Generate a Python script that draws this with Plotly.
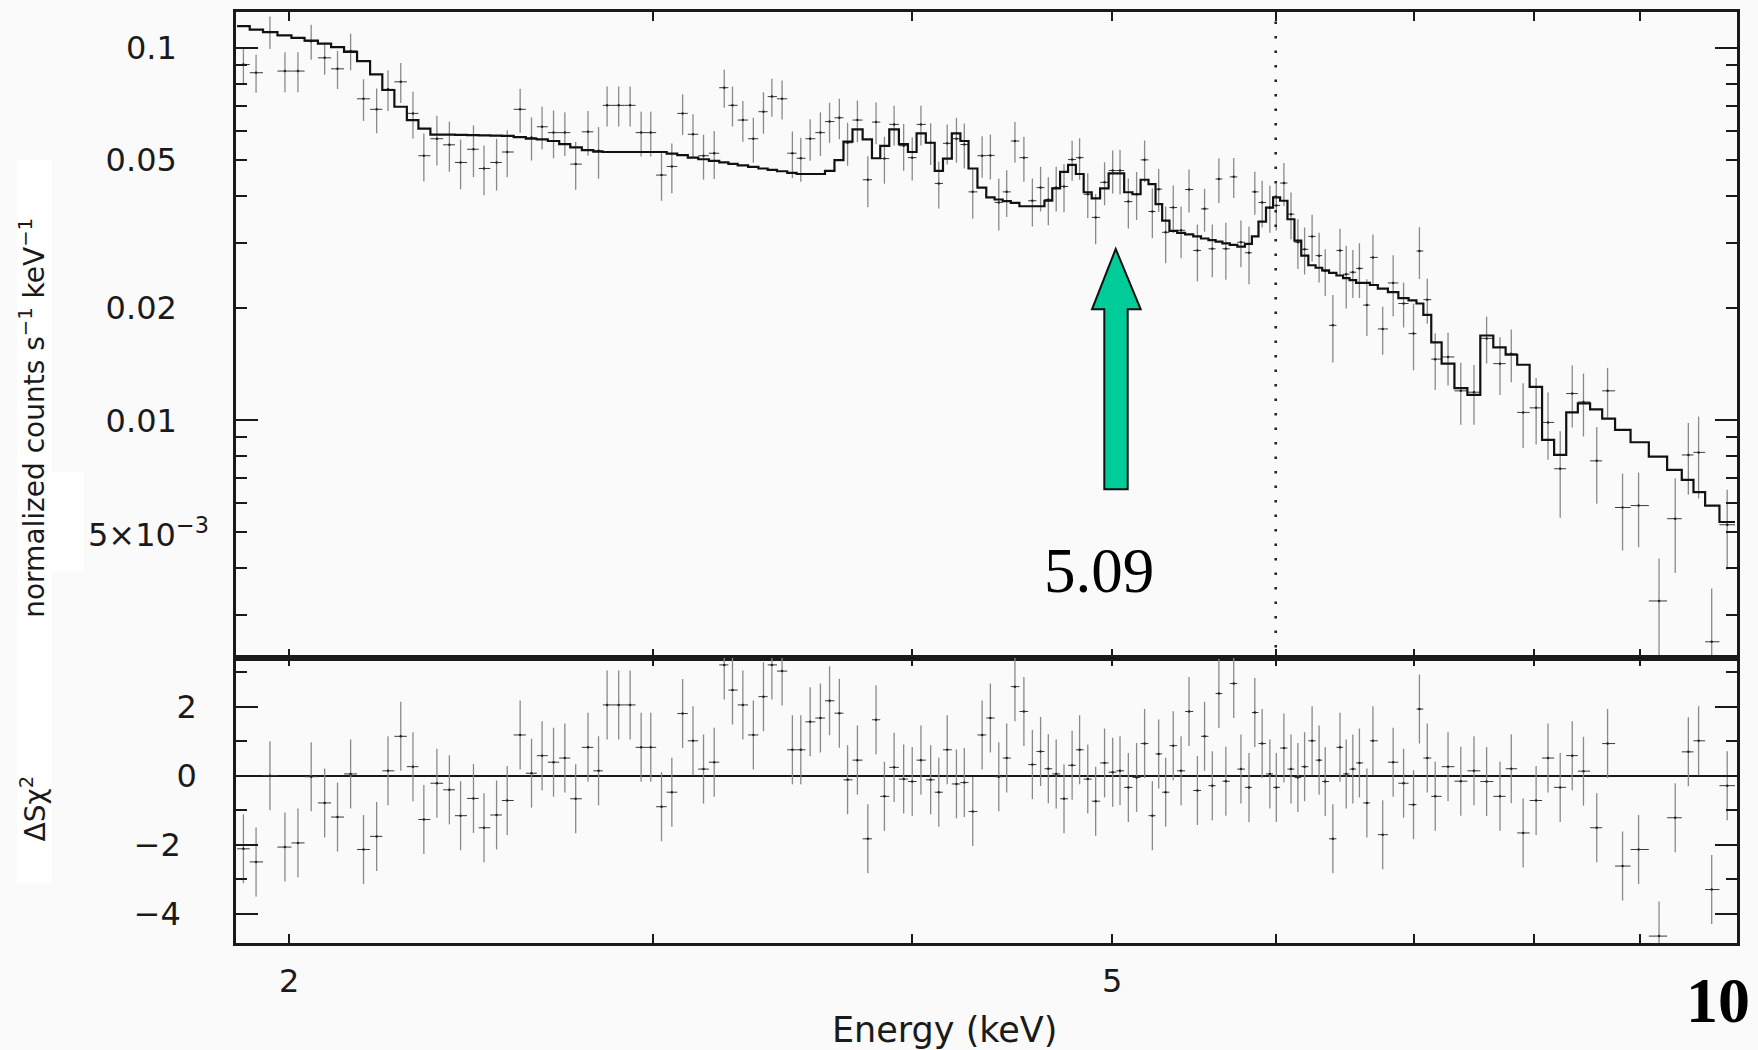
import math
import plotly.graph_objects as go

# ---------------- data ----------------
energy_keV = [
    1.901, 1.928, 1.958, 1.991, 2.020, 2.050, 2.081, 2.111, 2.142, 2.173,
    2.205, 2.233, 2.265, 2.296, 2.324, 2.358, 2.391, 2.421, 2.456, 2.485,
    2.520, 2.550, 2.587, 2.620, 2.651, 2.685, 2.719, 2.752, 2.790, 2.823,
    2.850, 2.887, 2.924, 2.960, 2.992, 3.028, 3.063, 3.100, 3.136, 3.173,
    3.211, 3.247, 3.277, 3.315, 3.354, 3.392, 3.424, 3.463, 3.503, 3.536,
    3.573, 3.614, 3.651, 3.691, 3.725, 3.766, 3.810, 3.845, 3.881, 3.923,
    3.965, 4.003, 4.042, 4.086, 4.123, 4.162, 4.205, 4.242, 4.282, 4.327,
    4.367, 4.408, 4.447, 4.488, 4.533, 4.576, 4.618, 4.658, 4.699, 4.740,
    4.783, 4.823, 4.867, 4.910, 4.959, 5.004, 5.045, 5.092, 5.139, 5.185,
    5.230, 5.267, 5.308, 5.353, 5.400, 5.448, 5.499, 5.543, 5.591, 5.632,
    5.676, 5.726, 5.772, 5.824, 5.862, 5.910, 5.961, 6.004, 6.055, 6.103,
    6.150, 6.196, 6.248, 6.297, 6.340, 6.394, 6.445, 6.490, 6.538, 6.586,
    6.641, 6.686, 6.759, 6.838, 6.918, 6.995, 7.041, 7.103, 7.166, 7.269,
    7.373, 7.482, 7.588, 7.702, 7.799, 7.903, 8.018, 8.125, 8.236, 8.347,
    8.452, 8.578, 8.682, 8.828, 8.987, 9.194, 9.361, 9.499, 9.608, 9.749,
    9.919]

counts = [
    0.0904, 0.0859, 0.1106, 0.0868, 0.0868, 0.1044, 0.0942, 0.0880, 0.0983, 0.0731,
    0.0685, 0.0775, 0.0812, 0.0668, 0.0514, 0.0571, 0.0550, 0.0493, 0.0535, 0.0475,
    0.0493, 0.0526, 0.0685, 0.0575, 0.0615, 0.0593, 0.0593, 0.0488, 0.0596, 0.0530,
    0.0702, 0.0702, 0.0702, 0.0593, 0.0593, 0.0456, 0.0481, 0.0668, 0.0587, 0.0514,
    0.0522, 0.0783, 0.0702, 0.0641, 0.0571, 0.0675, 0.0741, 0.0731, 0.0522, 0.0506,
    0.0571, 0.0593, 0.0635, 0.0650, 0.0557, 0.0641, 0.0443, 0.0633, 0.0505, 0.0624,
    0.0547, 0.0508, 0.0624, 0.0557, 0.0433, 0.0555, 0.0571, 0.0551, 0.0411, 0.0514,
    0.0515, 0.0385, 0.0411, 0.0563, 0.0508, 0.0389, 0.0422, 0.0392, 0.0422, 0.0425,
    0.0502, 0.0508, 0.0405, 0.0351, 0.0436, 0.0469, 0.0469, 0.0387, 0.0405, 0.0501,
    0.0364, 0.0418, 0.0320, 0.0373, 0.0324, 0.0417, 0.0286, 0.0370, 0.0289, 0.0445,
    0.0289, 0.0451, 0.0301, 0.0282, 0.0411, 0.0385, 0.0373, 0.0378, 0.0434, 0.0358,
    0.0301, 0.0288, 0.0312, 0.0277, 0.0252, 0.0180, 0.0286, 0.0247, 0.0250, 0.0256,
    0.0204, 0.0274, 0.0176, 0.0234, 0.0206, 0.0171, 0.0285, 0.0211, 0.0146, 0.0148,
    0.0120, 0.0119, 0.0166, 0.0142, 0.0151, 0.0105, 0.0108, 0.00987, 0.00741, 0.0118,
    0.0112, 0.00778, 0.0120, 0.00583, 0.00590, 0.00327, 0.00544, 0.00807, 0.00820, 0.00254,
    0.00524]

counts_err_frac = [
    0.110, 0.117, 0.100, 0.123, 0.123, 0.108, 0.100, 0.117, 0.113, 0.128,
    0.138, 0.125, 0.123, 0.144, 0.147, 0.153, 0.153, 0.153, 0.159, 0.153,
    0.159, 0.144, 0.135, 0.132, 0.132, 0.147, 0.135, 0.147, 0.138, 0.159,
    0.123, 0.123, 0.123, 0.138, 0.138, 0.147, 0.153, 0.125, 0.132, 0.138,
    0.147, 0.117, 0.123, 0.125, 0.138, 0.128, 0.117, 0.120, 0.144, 0.135,
    0.128, 0.135, 0.123, 0.125, 0.132, 0.128, 0.156, 0.128, 0.144, 0.123,
    0.144, 0.132, 0.123, 0.128, 0.144, 0.123, 0.138, 0.138, 0.153, 0.128,
    0.138, 0.159, 0.144, 0.125, 0.138, 0.147, 0.138, 0.147, 0.138, 0.147,
    0.123, 0.128, 0.138, 0.153, 0.132, 0.132, 0.138, 0.153, 0.147, 0.128,
    0.153, 0.132, 0.174, 0.147, 0.159, 0.132, 0.174, 0.132, 0.162, 0.138,
    0.174, 0.123, 0.144, 0.177, 0.132, 0.144, 0.144, 0.144, 0.132, 0.144,
    0.153, 0.144, 0.144, 0.153, 0.144, 0.206, 0.144, 0.192, 0.147, 0.168,
    0.174, 0.153, 0.147, 0.186, 0.138, 0.203, 0.159, 0.138, 0.174, 0.162,
    0.189, 0.183, 0.144, 0.177, 0.162, 0.198, 0.203, 0.206, 0.262, 0.189,
    0.192, 0.233, 0.153, 0.233, 0.227, 0.300, 0.285, 0.218, 0.248, 0.390,
    0.242]

model_counts = [
    0.1146, 0.1122, 0.1104, 0.1083, 0.1066, 0.1048, 0.1029, 0.1006, 0.0977, 0.0923,
    0.0850, 0.0772, 0.0696, 0.0641, 0.0608, 0.0586, 0.0586, 0.0585, 0.0584, 0.0583,
    0.0582, 0.0581, 0.0577, 0.0571, 0.0569, 0.0563, 0.0552, 0.0541, 0.0532, 0.0527,
    0.0526, 0.0526, 0.0526, 0.0526, 0.0526, 0.0526, 0.0521, 0.0516, 0.0508, 0.0503,
    0.0498, 0.0493, 0.0489, 0.0484, 0.0480, 0.0475, 0.0471, 0.0467, 0.0462, 0.0459,
    0.0459, 0.0459, 0.0468, 0.0500, 0.0561, 0.0605, 0.0569, 0.0506, 0.0546, 0.0605,
    0.0552, 0.0526, 0.0590, 0.0557, 0.0468, 0.0505, 0.0590, 0.0563, 0.0475, 0.0422,
    0.0397, 0.0392, 0.0388, 0.0384, 0.0376, 0.0376, 0.0376, 0.0389, 0.0420, 0.0465,
    0.0486, 0.0459, 0.0410, 0.0395, 0.0420, 0.0461, 0.0461, 0.0410, 0.0405, 0.0443,
    0.0431, 0.0381, 0.0344, 0.0323, 0.0319, 0.0316, 0.0312, 0.0308, 0.0305, 0.0302,
    0.0299, 0.0296, 0.0293, 0.0298, 0.0312, 0.0342, 0.0373, 0.0397, 0.0389, 0.0347,
    0.0304, 0.0277, 0.0261, 0.0257, 0.0253, 0.0249, 0.0245, 0.0241, 0.0238, 0.0234,
    0.0234, 0.0231, 0.0226, 0.0221, 0.0213, 0.0210, 0.0206, 0.0192, 0.0162, 0.0142,
    0.0122, 0.0117, 0.0169, 0.0157, 0.0150, 0.0141, 0.0123, 0.00886, 0.00807, 0.0105,
    0.0111, 0.0107, 0.0101, 0.00942, 0.00873, 0.00799, 0.00736, 0.00692, 0.00641, 0.00590,
    0.00533]

residual = [
    -2.12, -2.50, 0.00, -2.07, -1.95, -0.03, -0.79, -1.20, 0.05, -2.14,
    -1.76, 0.14, 1.14, 0.26, -1.27, -0.22, -0.41, -1.16, -0.66, -1.51,
    -1.14, -0.72, 1.18, 0.07, 0.58, 0.39, 0.51, -0.67, 0.82, 0.14,
    2.05, 2.05, 2.05, 0.82, 0.82, -0.90, -0.48, 1.80, 1.01, 0.19,
    0.39, 3.21, 2.48, 2.05, 1.18, 2.29, 3.21, 3.03, 0.75, 0.75,
    1.56, 1.67, 2.17, 1.81, -0.12, 0.45, -1.83, 1.62, -0.60, 0.24,
    -0.10, -0.17, 0.45, -0.12, -0.48, 0.75, -0.24, -0.20, -1.04, 1.18,
    1.67, -0.03, 0.51, 2.58, 1.86, 0.32, 0.70, 0.20, 0.05, -0.67,
    0.30, 0.75, -0.10, -0.74, 0.37, 0.10, 0.14, -0.34, -0.05, 0.93,
    -1.16, 0.63, -0.48, 0.87, 0.14, 1.86, -0.43, 1.14, -0.29, 2.38,
    -0.16, 2.67, 0.19, -0.34, 1.83, 0.93, 0.05, -0.34, 0.80, 0.19,
    -0.05, 0.26, 1.01, 0.45, -0.17, -1.83, 0.82, 0.05, 0.19, 0.37,
    -0.79, 1.01, -1.71, 0.39, -0.22, -0.84, 1.93, 0.51, -0.60, 0.26,
    -0.16, 0.14, -0.17, -0.60, 0.20, -1.66, -0.72, 0.51, -0.34, 0.58,
    0.13, -1.51, 0.93, -2.62, -2.14, -4.65, -1.22, 0.69, 1.01, -3.30,
    -0.29]

line_energy_keV = [6.0, 6.0]
line_span = [1e-3, 1.0]

x_tick_vals = [2, 3, 4, 5, 6, 7, 8, 9]
x_label_vals = [2, 5]
x_label_text = ["2", "5"]
y_tick_vals = [0.1, 0.05, 0.02, 0.01, 0.005]
y_tick_text = ["0.1", "0.05", "0.02", "0.01", ""]
y_extra_label = "5×10<sup>−3</sup>"
y_minor_vals = [0.003, 0.004, 0.006, 0.007, 0.008, 0.009,
                0.03, 0.04, 0.06, 0.07, 0.08, 0.09]
y_long_vals = [0.01, 0.1]
res_tick_vals = [-4, -2, 0, 2]
res_tick_text = ["−4\u2002", "−2\u2002", "0", "2"]
res_minor_vals = [-3, -1, 1, 3]

arrow_label = "5.09"
corner_label = "10"

# ---------------- derived bin edges (geometric midpoints) ----------------
logc = [math.log10(e) for e in energy_keV]
mids = [(a + b) / 2 for a, b in zip(logc[:-1], logc[1:])]
lo_log = [2 * logc[0] - mids[0]] + mids
hi_log = mids + [2 * logc[-1] - mids[-1]]
edge_lo = [10 ** v for v in lo_log]
edge_hi = [10 ** v for v in hi_log]
xerr_minus = [e - l for e, l in zip(energy_keV, edge_lo)]
xerr_plus = [h - e for e, h in zip(energy_keV, edge_hi)]
yerr = [c * f for c, f in zip(counts, counts_err_frac)]

step_x = edge_lo + [edge_hi[-1]]
step_y = model_counts + [model_counts[-1]]

FONT = "DejaVu Sans"
INK = "#1a1a1a"
BG = "#fafafa"
XR = [0.2754, 1.0012]
YR = [-2.6378, -0.9028]
RR = [-4.85, 3.42]
SPLIT = 0.3065

fig = go.Figure()

# faint white patches behind the left-hand labels
fig.add_shape(type="rect", xref="paper", yref="paper", x0=-0.1459, x1=-0.1226,
              y0=0.0642, y1=0.8415, fillcolor="#ffffff", line_width=0,
              layer="below")
fig.add_shape(type="rect", xref="paper", yref="paper", x0=-0.1226, x1=-0.1013,
              y0=0.3994, y1=0.5064, fillcolor="#ffffff", line_width=0,
              layer="below")

# data points (top)
fig.add_trace(go.Scatter(
    x=energy_keV, y=counts, mode="markers", xaxis="x", yaxis="y",
    marker=dict(size=2.5, color="#222"),
    error_x=dict(type="data", array=xerr_plus, arrayminus=xerr_minus,
                 symmetric=False, color="#3a3a3a", thickness=1, width=0),
    error_y=dict(type="data", array=yerr, color="#8a8a8a", thickness=1.3, width=0),
    showlegend=False, hoverinfo="skip"))

# model histogram
fig.add_trace(go.Scatter(
    x=step_x, y=step_y, mode="lines", line_shape="hv", xaxis="x", yaxis="y",
    line=dict(color="#111", width=2.2), showlegend=False, hoverinfo="skip"))

# dotted line
fig.add_trace(go.Scatter(
    x=line_energy_keV, y=line_span, mode="lines", xaxis="x", yaxis="y",
    line=dict(color="#222", width=2.6, dash="2.5px,12px"),
    showlegend=False, hoverinfo="skip"))

# invisible trace for the long-tick overlay axis
fig.add_trace(go.Scatter(
    x=energy_keV[:1], y=counts[:1], mode="markers", xaxis="x", yaxis="y3",
    marker=dict(opacity=0), showlegend=False, hoverinfo="skip"))

# residuals
fig.add_trace(go.Scatter(
    x=energy_keV, y=residual, mode="markers", xaxis="x2", yaxis="y2",
    marker=dict(size=2.5, color="#222"),
    error_x=dict(type="data", array=xerr_plus, arrayminus=xerr_minus,
                 symmetric=False, color="#3a3a3a", thickness=1, width=0),
    error_y=dict(type="data", array=[1.0] * len(residual), color="#8a8a8a",
                 thickness=1.3, width=0),
    showlegend=False, hoverinfo="skip"))

tickfont = dict(family=FONT, size=32, color=INK)
common_x = dict(type="log", range=XR, tickvals=x_tick_vals, ticks="inside",
                ticklen=9, tickwidth=2, tickcolor=INK, showline=True,
                linewidth=2.5, linecolor=INK, mirror="ticks", showgrid=False,
                zeroline=False, showticklabels=False)

fig.update_layout(
    width=1758, height=1050,
    margin=dict(l=236, r=21, t=9, b=107),
    paper_bgcolor=BG, plot_bgcolor=BG,
    xaxis=dict(common_x, anchor="y", domain=[0, 1]),
    xaxis2=dict(common_x, anchor="y2", domain=[0, 1]),
    yaxis=dict(type="log", range=YR, domain=[SPLIT, 1], anchor="x",
               tickvals=y_tick_vals, ticktext=y_tick_text, ticks="inside",
               ticklen=11, tickwidth=2, tickcolor=INK, showline=True,
               linewidth=2.5, linecolor=INK, mirror="ticks", showgrid=False,
               zeroline=False, tickfont=tickfont, ticklabelstandoff=50,
               minor=dict(tickvals=y_minor_vals, ticks="inside", ticklen=11,
                          tickwidth=2, tickcolor=INK, showgrid=False)),
    yaxis3=dict(type="log", range=YR, overlaying="y", anchor="x", side="left",
                tickvals=y_long_vals, ticks="inside", ticklen=22, tickwidth=2,
                tickcolor=INK, showticklabels=False, showline=False,
                mirror="ticks", showgrid=False, zeroline=False),
    yaxis2=dict(range=RR, domain=[0, SPLIT], anchor="x2",
                tickvals=res_tick_vals, ticktext=res_tick_text, ticks="inside",
                ticklen=22, tickwidth=2, tickcolor=INK, showline=True,
                linewidth=2.5, linecolor=INK, mirror="ticks", showgrid=False,
                zeroline=True, zerolinecolor=INK, zerolinewidth=2,
                tickfont=tickfont, ticklabelstandoff=30,
                minor=dict(tickvals=res_minor_vals, ticks="inside", ticklen=11,
                           tickwidth=2, tickcolor=INK, showgrid=False)),
)

# x tick labels (placed on the energy axis)
for v, t in zip(x_label_vals, x_label_text):
    fig.add_annotation(text=t, x=math.log10(v), xref="x2", y=-0.0407,
                       yref="paper", showarrow=False, xanchor="center",
                       yanchor="middle", font=tickfont)

# arrow (annotation graphic, paper coordinates)
arrow_pts = [(0.58608, 0.74550), (0.60273, 0.68062), (0.59407, 0.68062),
             (0.59407, 0.48747), (0.57848, 0.48747), (0.57848, 0.68062),
             (0.57029, 0.68062)]
path = "M " + " L ".join(f"{x},{y}" for x, y in arrow_pts) + " Z"
fig.add_shape(type="path", path=path, xref="paper", yref="paper",
              fillcolor="#00CC99", line=dict(color="#111", width=2))

fig.add_annotation(text=y_extra_label, x=-0.0999, y=0.4400, xref="paper",
                   yref="paper", showarrow=False, xanchor="left",
                   yanchor="middle", font=tickfont)
fig.add_annotation(text=arrow_label, x=0.57495, y=0.3999, xref="paper",
                   yref="paper", showarrow=False, xanchor="center",
                   yanchor="middle",
                   font=dict(family="Liberation Serif", size=63, color="#000"))
fig.add_annotation(text="<b>" + corner_label + "</b>", x=0.98734, y=-0.0621,
                   xref="paper", yref="paper", showarrow=False,
                   xanchor="center", yanchor="middle",
                   font=dict(family="Liberation Serif", size=64, color="#000"))
fig.add_annotation(text="Energy (keV)", x=0.4721, y=-0.0931, xref="paper",
                   yref="paper", showarrow=False, xanchor="center",
                   yanchor="middle", font=dict(family=FONT, size=35, color=INK))
fig.add_annotation(text="normalized counts s<sup>−1</sup> keV<sup>−1</sup>",
                   x=-0.1352, y=0.5642, xref="paper", yref="paper",
                   showarrow=False, textangle=-90, xanchor="center",
                   yanchor="middle", font=dict(family=FONT, size=28, color=INK))
fig.add_annotation(text="ΔSχ<sup>2</sup>", x=-0.1346, y=0.1445, xref="paper",
                   yref="paper", showarrow=False, textangle=-90,
                   xanchor="center", yanchor="middle",
                   font=dict(family=FONT, size=28, color=INK))

fig.write_html("out.html", config={"displayModeBar": False},
               post_script="document.body.style.margin='0';"
                           "document.body.style.overflow='hidden';")
